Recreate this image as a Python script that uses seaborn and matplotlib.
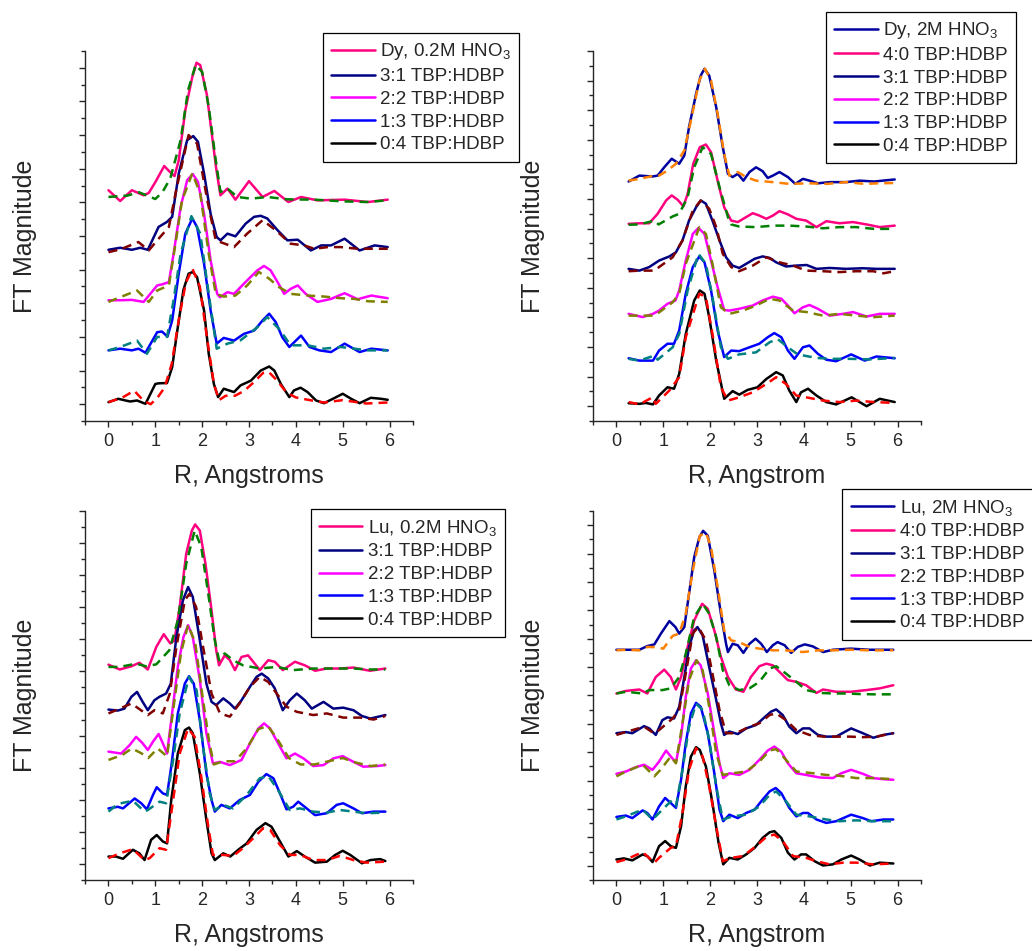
import matplotlib
matplotlib.use("Agg")
import matplotlib.pyplot as plt
from matplotlib.ticker import MultipleLocator
import seaborn as sns

# ---------------- colours (Origin palette) ----------------
PINK, NAVY, MAGENTA, BLUE, BLACK, ROYAL = "#ff0080", "#000080", "#ff00ff", "#0000ff", "#000000", "#0000a0"
GREEN, WINE, OLIVE, DCYAN, RED, ORANGE = "#008000", "#800000", "#808000", "#008080", "#ff0000", "#ff8000"

# ---------------- Panel 1 : Dy, 0.2M HNO3 ----------------
P1_DY_R = [0, 0.25, 0.5, 0.75, 0.86, 1.0, 1.19, 1.3, 1.41, 1.5, 1.64, 1.79, 1.88, 1.96, 2.1, 2.2, 2.3, 2.39, 2.54, 2.71, 3.0, 3.29, 3.54, 3.84, 4.11, 4.46, 5.04, 5.54, 5.96]
P1_DY_Y = [6.36, 6.04, 6.36, 6.21, 6.28, 6.6, 7.08, 6.92, 6.78, 7.25, 8.74, 9.73, 10.15, 10.08, 9.2, 8.1, 7.0, 6.21, 6.41, 6.08, 6.63, 6.16, 6.34, 6.01, 6.16, 6.06, 6.08, 6.01, 6.08]
P1_DYF_R = [0, 0.4, 0.65, 1.0, 1.15, 1.32, 1.54, 1.7, 1.86, 2.0, 2.14, 2.29, 2.39, 2.54, 2.75, 3.04, 3.39, 3.82, 4.4, 5.0, 5.5, 5.96]
P1_DYF_Y = [6.16, 6.2, 6.3, 6.1, 6.3, 6.71, 7.85, 9.34, 10.08, 9.88, 8.84, 7.25, 6.31, 6.41, 6.16, 6.11, 6.16, 6.09, 6.08, 6.03, 6.01, 6.06]

P1_31_R = [0, 0.25, 0.5, 0.68, 0.84, 1.07, 1.25, 1.36, 1.5, 1.68, 1.81, 1.91, 2.04, 2.18, 2.31, 2.39, 2.54, 2.71, 2.93, 3.11, 3.25, 3.39, 3.61, 3.82, 4.04, 4.32, 4.54, 4.75, 5.04, 5.36, 5.68, 5.96]
P1_31_Y = [4.59, 4.65, 4.59, 4.65, 4.59, 5.27, 5.42, 5.57, 6.86, 7.85, 7.97, 7.8, 6.86, 5.66, 4.97, 4.87, 5.07, 4.99, 5.37, 5.57, 5.6, 5.52, 5.17, 4.87, 4.89, 4.57, 4.72, 4.72, 4.92, 4.57, 4.72, 4.67]
P1_31F_R = [0, 0.25, 0.64, 0.86, 1.04, 1.29, 1.46, 1.71, 1.89, 2.11, 2.29, 2.68, 2.96, 3.29, 3.57, 3.89, 4.18, 4.39, 4.68, 4.96, 5.32, 5.96]
P1_31F_Y = [4.52, 4.6, 4.82, 4.57, 4.87, 5.27, 6.46, 8.0, 7.75, 6.06, 4.87, 4.67, 5.07, 5.47, 5.17, 4.77, 4.72, 4.62, 4.67, 4.67, 4.62, 4.62]

P1_22_R = [0, 0.25, 0.5, 0.75, 1.04, 1.14, 1.29, 1.39, 1.54, 1.68, 1.8, 1.91, 2.04, 2.18, 2.32, 2.38, 2.54, 2.68, 2.96, 3.18, 3.32, 3.46, 3.61, 3.75, 3.89, 4.04, 4.21, 4.46, 4.75, 5.04, 5.32, 5.61, 5.96]
P1_22_Y = [3.09, 3.09, 3.1, 3.04, 3.53, 3.56, 3.63, 4.47, 5.86, 6.66, 6.84, 6.61, 5.66, 4.28, 3.28, 3.18, 3.33, 3.28, 3.68, 3.98, 4.11, 3.98, 3.63, 3.28, 3.43, 3.53, 3.28, 3.04, 3.13, 3.3, 3.12, 3.23, 3.15]
P1_22F_R = [0, 0.25, 0.61, 0.86, 1.04, 1.29, 1.43, 1.57, 1.79, 1.96, 2.14, 2.29, 2.46, 2.71, 2.96, 3.21, 3.43, 3.64, 3.89, 4.25, 4.6, 4.96, 5.25, 5.54, 5.96]
P1_22F_Y = [3.04, 3.18, 3.38, 3.04, 3.38, 3.53, 4.77, 6.06, 6.86, 6.26, 4.47, 3.28, 3.2, 3.23, 3.53, 3.93, 3.73, 3.48, 3.28, 3.23, 3.2, 3.15, 3.13, 3.06, 3.04]

P1_13_R = [0, 0.25, 0.5, 0.64, 0.79, 1.04, 1.14, 1.26, 1.36, 1.5, 1.64, 1.79, 1.89, 2.04, 2.18, 2.31, 2.46, 2.68, 2.89, 3.11, 3.29, 3.43, 3.57, 3.71, 3.86, 4.11, 4.29, 4.5, 4.75, 5.04, 5.36, 5.61, 5.96]
P1_13_Y = [1.6, 1.65, 1.6, 1.65, 1.53, 2.14, 2.16, 2.01, 2.49, 3.88, 5.07, 5.52, 5.27, 4.18, 2.79, 1.8, 1.97, 1.89, 2.09, 2.19, 2.49, 2.69, 2.44, 1.99, 1.7, 2.04, 1.7, 1.6, 1.55, 1.8, 1.55, 1.65, 1.6]
P1_13F_R = [0, 0.25, 0.61, 0.82, 1.04, 1.25, 1.39, 1.54, 1.77, 1.96, 2.14, 2.31, 2.54, 2.82, 3.18, 3.39, 3.64, 3.89, 4.25, 4.6, 4.96, 5.25, 5.54, 5.96]
P1_13F_Y = [1.6, 1.7, 1.89, 1.5, 2.0, 2.0, 3.09, 4.47, 5.59, 5.07, 3.28, 1.65, 1.8, 1.9, 2.29, 2.59, 2.24, 1.75, 1.75, 1.65, 1.7, 1.65, 1.6, 1.6]

P1_04_R = [0, 0.21, 0.46, 0.61, 0.79, 1.0, 1.07, 1.25, 1.36, 1.46, 1.6, 1.71, 1.8, 1.89, 2.04, 2.14, 2.25, 2.34, 2.46, 2.57, 2.68, 2.82, 3.04, 3.25, 3.43, 3.54, 3.68, 3.86, 3.96, 4.1, 4.25, 4.43, 4.6, 4.79, 5.0, 5.18, 5.36, 5.6, 5.82, 5.96]
P1_04_Y = [0.06, 0.16, 0.08, 0.11, 0.01, 0.6, 0.62, 0.63, 1.1, 2.1, 3.4, 3.88, 3.93, 3.78, 2.79, 1.5, 0.6, 0.21, 0.46, 0.41, 0.36, 0.56, 0.7, 1.0, 1.12, 1.0, 0.6, 0.21, 0.41, 0.49, 0.36, 0.11, 0.03, 0.16, 0.31, 0.16, 0.03, 0.19, 0.16, 0.13]
P1_04F_R = [0, 0.3, 0.55, 0.75, 0.9, 1.05, 1.2, 1.35, 1.5, 1.65, 1.79, 1.95, 2.1, 2.25, 2.36, 2.5, 2.7, 2.9, 3.1, 3.3, 3.42, 3.6, 3.8, 4.0, 4.3, 4.6, 5.0, 5.5, 5.96]
P1_04F_Y = [0.06, 0.2, 0.4, 0.1, 0.0, 0.2, 0.5, 1.2, 2.5, 3.6, 4.03, 3.5, 2.0, 0.6, 0.12, 0.25, 0.25, 0.4, 0.65, 0.93, 0.96, 0.7, 0.35, 0.2, 0.12, 0.05, 0.12, 0.02, 0.05]

# ---------------- Panel 2 : Dy, 2M HNO3 ----------------
P2_DY_R = [0.26, 0.49, 0.77, 0.88, 1.02, 1.18, 1.34, 1.45, 1.55, 1.7, 1.8, 1.88, 1.98, 2.13, 2.27, 2.38, 2.48, 2.59, 2.71, 2.84, 2.98, 3.12, 3.23, 3.34, 3.48, 3.66, 3.82, 3.98, 4.12, 4.3, 4.55, 4.9, 5.19, 5.5, 5.94]
P2_DY_Y = [7.59, 7.79, 7.76, 7.79, 8.07, 8.36, 8.19, 8.47, 9.43, 10.55, 11.17, 11.4, 11.17, 10.1, 8.75, 7.85, 7.74, 7.85, 7.62, 7.91, 8.07, 7.94, 7.71, 7.79, 7.91, 7.74, 7.51, 7.68, 7.62, 7.53, 7.57, 7.57, 7.62, 7.59, 7.66]
P2_DYF_R = [0.26, 0.49, 0.81, 0.91, 1.09, 1.27, 1.45, 1.59, 1.77, 1.89, 2.02, 2.16, 2.3, 2.41, 2.59, 2.77, 2.98, 3.34, 3.69, 4.1, 4.5, 4.9, 5.3, 5.6, 5.94]
P2_DYF_Y = [7.62, 7.68, 7.79, 7.79, 7.96, 8.19, 8.64, 9.65, 11.0, 11.4, 11.0, 9.88, 8.52, 7.79, 7.91, 7.74, 7.62, 7.57, 7.51, 7.53, 7.51, 7.57, 7.51, 7.53, 7.54]

P2_40_R = [0.26, 0.49, 0.7, 0.88, 1.06, 1.18, 1.31, 1.43, 1.52, 1.64, 1.78, 1.91, 2.02, 2.16, 2.3, 2.45, 2.59, 2.77, 2.91, 3.05, 3.2, 3.34, 3.48, 3.66, 3.84, 4.05, 4.27, 4.48, 4.76, 5.05, 5.34, 5.62, 5.94]
P2_40_Y = [6.16, 6.18, 6.18, 6.5, 6.95, 7.12, 6.97, 6.75, 7.17, 8.19, 8.75, 8.84, 8.58, 7.62, 6.72, 6.27, 6.22, 6.39, 6.52, 6.44, 6.33, 6.44, 6.59, 6.48, 6.33, 6.27, 6.05, 6.25, 6.18, 6.22, 6.14, 6.05, 6.1]
P2_40F_R = [0.26, 0.49, 0.81, 0.9, 1.2, 1.34, 1.52, 1.66, 1.84, 2.02, 2.2, 2.38, 2.45, 2.62, 2.98, 3.34, 3.69, 4.05, 4.41, 4.76, 5.12, 5.5, 5.94]
P2_40F_Y = [6.13, 6.14, 6.27, 6.14, 6.41, 6.5, 7.06, 8.07, 8.75, 8.52, 7.4, 6.39, 6.14, 6.07, 6.05, 6.1, 6.1, 6.07, 6.01, 6.05, 6.05, 5.99, 5.99]

P2_31_R = [0.26, 0.49, 0.7, 0.91, 1.13, 1.27, 1.41, 1.55, 1.7, 1.8, 1.91, 2.05, 2.2, 2.34, 2.48, 2.62, 2.77, 2.95, 3.12, 3.27, 3.41, 3.62, 3.84, 4.06, 4.27, 4.55, 4.9, 5.26, 5.55, 5.94]
P2_31_Y = [4.64, 4.58, 4.7, 4.92, 5.06, 5.2, 5.6, 6.27, 6.72, 6.95, 6.84, 6.27, 5.6, 5.03, 4.75, 4.67, 4.81, 4.98, 5.06, 5.01, 4.86, 4.72, 4.75, 4.77, 4.64, 4.67, 4.64, 4.66, 4.64, 4.64]
P2_31F_R = [0.26, 0.49, 0.81, 0.91, 1.2, 1.41, 1.63, 1.8, 1.98, 2.13, 2.27, 2.45, 2.62, 2.91, 3.2, 3.48, 3.77, 4.05, 4.41, 4.76, 5.12, 5.48, 5.7, 5.94]
P2_31F_Y = [4.56, 4.58, 4.58, 4.7, 5.03, 5.6, 6.61, 6.95, 6.67, 6.05, 5.15, 4.7, 4.56, 4.75, 5.03, 4.86, 4.75, 4.58, 4.56, 4.53, 4.56, 4.56, 4.49, 4.56]

P2_22_R = [0.26, 0.56, 0.78, 0.91, 1.09, 1.26, 1.34, 1.48, 1.63, 1.75, 1.88, 2.02, 2.16, 2.3, 2.41, 2.62, 2.91, 3.12, 3.34, 3.52, 3.66, 3.8, 3.98, 4.12, 4.3, 4.55, 4.84, 5.05, 5.34, 5.62, 5.94]
P2_22_Y = [3.12, 3.01, 3.12, 3.23, 3.46, 3.57, 3.91, 4.92, 5.82, 6.02, 5.82, 4.92, 4.02, 3.25, 3.23, 3.29, 3.4, 3.57, 3.7, 3.63, 3.4, 3.14, 3.34, 3.42, 3.29, 3.06, 3.12, 3.18, 3.03, 3.12, 3.12]
P2_22F_R = [0.26, 0.49, 0.81, 0.91, 1.2, 1.34, 1.48, 1.77, 1.91, 2.05, 2.23, 2.41, 2.7, 2.98, 3.27, 3.48, 3.77, 4.06, 4.41, 4.76, 5.12, 5.5, 5.94]
P2_22F_Y = [3.06, 3.06, 3.06, 3.17, 3.51, 3.8, 4.81, 6.05, 5.82, 4.81, 3.34, 3.12, 3.23, 3.4, 3.63, 3.57, 3.23, 3.18, 3.06, 3.12, 3.06, 3.01, 3.06]

P2_13_R = [0.26, 0.49, 0.78, 0.91, 1.09, 1.23, 1.34, 1.48, 1.63, 1.77, 1.88, 2.02, 2.16, 2.3, 2.45, 2.62, 2.84, 3.05, 3.23, 3.37, 3.52, 3.66, 3.8, 3.98, 4.12, 4.3, 4.48, 4.69, 5.01, 5.3, 5.55, 5.94]
P2_13_Y = [1.62, 1.54, 1.54, 1.88, 2.11, 2.11, 2.56, 3.8, 4.7, 5.06, 4.86, 3.91, 2.56, 1.66, 1.88, 1.86, 1.99, 2.11, 2.33, 2.47, 2.33, 1.88, 1.6, 1.99, 2.05, 1.77, 1.57, 1.52, 1.75, 1.54, 1.68, 1.62]
P2_13F_R = [0.26, 0.49, 0.81, 0.88, 1.2, 1.34, 1.52, 1.75, 1.91, 2.05, 2.23, 2.38, 2.62, 2.98, 3.27, 3.44, 3.66, 3.87, 4.27, 4.62, 5.0, 5.4, 5.94]
P2_13F_Y = [1.6, 1.54, 1.71, 1.57, 1.99, 2.44, 3.91, 5.15, 4.81, 3.68, 1.99, 1.6, 1.75, 1.82, 2.16, 2.27, 1.99, 1.75, 1.63, 1.6, 1.6, 1.58, 1.63]

P2_04_R = [0.26, 0.49, 0.63, 0.78, 0.91, 1.09, 1.23, 1.34, 1.48, 1.66, 1.78, 1.88, 1.98, 2.13, 2.3, 2.48, 2.62, 2.8, 3.01, 3.2, 3.41, 3.55, 3.69, 3.84, 3.94, 4.09, 4.27, 4.48, 4.69, 5.02, 5.34, 5.62, 5.94]
P2_04_Y = [0.1, 0.08, 0.11, 0.06, 0.36, 0.64, 0.59, 1.09, 2.44, 3.57, 3.91, 3.8, 3.01, 1.54, 0.25, 0.51, 0.39, 0.55, 0.64, 0.92, 1.15, 1.04, 0.53, 0.14, 0.47, 0.59, 0.36, 0.14, 0.06, 0.3, 0.0, 0.25, 0.14]
P2_04F_R = [0.26, 0.49, 0.77, 0.84, 1.13, 1.34, 1.48, 1.77, 1.91, 2.05, 2.23, 2.38, 2.62, 2.91, 3.2, 3.41, 3.62, 3.84, 4.05, 4.41, 4.76, 5.12, 5.5, 5.94]
P2_04F_Y = [0.14, 0.06, 0.3, 0.08, 0.53, 0.98, 2.33, 3.8, 3.68, 2.44, 0.64, 0.19, 0.3, 0.47, 0.75, 0.98, 0.75, 0.36, 0.3, 0.19, 0.14, 0.19, 0.14, 0.11]

# ---------------- Panel 3 : Lu, 0.2M HNO3 ----------------
P3_LU_R = [0, 0.24, 0.49, 0.66, 0.84, 1.02, 1.18, 1.32, 1.41, 1.52, 1.66, 1.78, 1.85, 1.95, 2.07, 2.2, 2.3, 2.36, 2.48, 2.59, 2.7, 2.84, 2.98, 3.09, 3.23, 3.41, 3.55, 3.72, 3.98, 4.19, 4.41, 4.66, 4.94, 5.23, 5.58, 5.91]
P3_LU_Y = [6.21, 6.06, 6.16, 6.27, 6.06, 6.76, 7.16, 6.87, 6.97, 8.01, 9.67, 10.39, 10.58, 10.39, 9.36, 7.9, 6.66, 6.19, 6.5, 6.35, 6.04, 6.45, 6.5, 6.3, 6.04, 6.35, 6.3, 6.04, 6.3, 6.19, 6.02, 6.09, 6.09, 6.12, 6.02, 6.09]
P3_LUF_R = [0, 0.24, 0.59, 0.8, 1.02, 1.3, 1.48, 1.66, 1.84, 1.98, 2.13, 2.27, 2.36, 2.48, 2.66, 2.87, 3.23, 3.59, 3.94, 4.37, 4.8, 5.23, 5.58, 5.91]
P3_LUF_Y = [6.14, 6.14, 6.24, 6.16, 6.22, 6.66, 7.59, 9.36, 10.39, 9.88, 8.42, 6.97, 6.35, 6.56, 6.35, 6.19, 6.09, 6.14, 6.04, 6.09, 6.09, 6.09, 6.06, 6.06]

P3_31_R = [0, 0.2, 0.34, 0.49, 0.61, 0.73, 0.84, 0.98, 1.09, 1.23, 1.33, 1.45, 1.59, 1.7, 1.8, 1.95, 2.09, 2.2, 2.3, 2.45, 2.59, 2.7, 2.84, 3.02, 3.16, 3.27, 3.41, 3.55, 3.72, 3.87, 4.02, 4.19, 4.34, 4.59, 4.8, 5.01, 5.23, 5.41, 5.59, 5.91]
P3_31_Y = [4.81, 4.78, 4.84, 5.21, 5.36, 5.05, 4.79, 5.1, 5.21, 5.31, 5.62, 7.07, 8.22, 8.63, 8.32, 6.97, 5.62, 5.05, 4.95, 5.16, 5.0, 4.84, 5.1, 5.52, 5.83, 5.93, 5.78, 5.47, 4.79, 5.1, 5.31, 5.1, 4.84, 5.05, 4.84, 4.87, 4.79, 4.61, 4.53, 4.64]
P3_31F_R = [0, 0.24, 0.49, 0.84, 0.98, 1.16, 1.31, 1.45, 1.63, 1.73, 1.87, 2.02, 2.2, 2.38, 2.59, 2.8, 3.02, 3.23, 3.41, 3.59, 3.8, 4.02, 4.37, 4.66, 5.01, 5.37, 5.66, 5.91]
P3_31F_Y = [4.69, 4.84, 5.0, 4.64, 4.79, 4.69, 5.31, 6.76, 8.22, 8.42, 8.01, 6.76, 5.31, 4.69, 4.59, 5.0, 5.52, 5.83, 5.67, 5.31, 4.9, 4.74, 4.64, 4.69, 4.56, 4.56, 4.5, 4.61]

P3_22_R = [0, 0.27, 0.45, 0.59, 0.73, 0.84, 0.95, 1.07, 1.16, 1.25, 1.34, 1.48, 1.6, 1.7, 1.8, 1.95, 2.09, 2.23, 2.38, 2.59, 2.84, 3.02, 3.2, 3.32, 3.45, 3.62, 3.8, 3.98, 4.16, 4.37, 4.59, 4.8, 5.0, 5.23, 5.44, 5.73, 5.91]
P3_22_Y = [3.5, 3.44, 3.7, 3.96, 3.76, 3.55, 3.81, 4.05, 3.76, 3.44, 4.48, 6.14, 7.07, 7.44, 7.07, 5.73, 4.07, 3.13, 3.18, 3.08, 3.24, 3.76, 4.22, 4.38, 4.22, 3.76, 3.29, 3.44, 3.29, 3.05, 3.08, 3.29, 3.36, 3.18, 3.03, 3.05, 3.08]
P3_22F_R = [0, 0.3, 0.5, 0.7, 0.85, 1.05, 1.25, 1.4, 1.55, 1.7, 1.85, 2.0, 2.15, 2.25, 2.45, 2.7, 2.95, 3.2, 3.4, 3.6, 3.85, 4.1, 4.4, 4.7, 5.0, 5.3, 5.6, 5.91]
P3_22F_Y = [3.24, 3.4, 3.6, 3.45, 3.3, 3.6, 3.35, 5.0, 6.6, 7.45, 6.9, 5.3, 3.8, 3.1, 3.2, 3.2, 3.6, 4.2, 4.3, 3.9, 3.3, 3.1, 3.1, 3.2, 3.3, 3.15, 3.05, 3.1]

P3_13_R = [0, 0.2, 0.31, 0.56, 0.7, 0.82, 0.95, 1.03, 1.16, 1.25, 1.34, 1.48, 1.63, 1.72, 1.82, 1.95, 2.09, 2.2, 2.27, 2.41, 2.59, 2.8, 3.02, 3.2, 3.37, 3.52, 3.66, 3.8, 3.94, 4.05, 4.23, 4.41, 4.66, 4.87, 5.01, 5.23, 5.41, 5.66, 5.91]
P3_13_Y = [1.73, 1.78, 1.73, 2.04, 1.89, 1.7, 2.15, 2.39, 2.2, 2.15, 3.03, 4.69, 5.62, 5.85, 5.62, 4.48, 2.82, 1.99, 1.63, 1.84, 1.73, 1.99, 2.15, 2.56, 2.8, 2.67, 2.2, 1.7, 1.78, 1.94, 1.73, 1.52, 1.58, 1.84, 1.89, 1.73, 1.58, 1.63, 1.63]
P3_13F_R = [0, 0.2, 0.52, 0.77, 0.84, 1.09, 1.23, 1.38, 1.52, 1.72, 1.88, 2.02, 2.16, 2.27, 2.45, 2.66, 2.95, 3.23, 3.41, 3.62, 3.87, 4.09, 4.37, 4.66, 4.94, 5.23, 5.5, 5.91]
P3_13F_Y = [1.63, 1.87, 1.97, 1.63, 1.68, 1.94, 1.89, 3.24, 4.69, 5.83, 5.42, 3.65, 2.2, 1.68, 1.84, 1.73, 2.15, 2.67, 2.74, 2.3, 1.68, 1.73, 1.63, 1.6, 1.68, 1.63, 1.58, 1.6]

P3_04_R = [0, 0.16, 0.31, 0.52, 0.66, 0.77, 0.91, 1.03, 1.16, 1.25, 1.34, 1.48, 1.63, 1.72, 1.8, 1.95, 2.09, 2.2, 2.27, 2.45, 2.6, 2.77, 2.95, 3.16, 3.35, 3.48, 3.66, 3.84, 4.02, 4.19, 4.41, 4.66, 4.84, 5.0, 5.16, 5.41, 5.59, 5.8, 5.91]
P3_04_Y = [0.23, 0.23, 0.16, 0.44, 0.33, 0.12, 0.75, 0.9, 0.7, 0.64, 1.99, 3.44, 4.17, 4.25, 4.07, 2.82, 1.37, 0.33, 0.12, 0.33, 0.23, 0.44, 0.64, 1.06, 1.27, 1.16, 0.7, 0.23, 0.4, 0.23, 0.04, 0.07, 0.28, 0.41, 0.28, 0.02, 0.12, 0.15, 0.09]
P3_04F_R = [0, 0.24, 0.52, 0.77, 0.88, 1.09, 1.23, 1.38, 1.52, 1.7, 1.84, 1.98, 2.13, 2.23, 2.45, 2.66, 2.87, 3.09, 3.3, 3.45, 3.66, 3.87, 4.09, 4.37, 4.66, 4.94, 5.23, 5.5, 5.91]
P3_04F_Y = [0.18, 0.33, 0.46, 0.12, 0.18, 0.49, 0.44, 1.99, 3.44, 4.22, 3.96, 2.72, 1.16, 0.28, 0.28, 0.25, 0.49, 0.8, 1.11, 1.06, 0.59, 0.28, 0.28, 0.12, 0.12, 0.25, 0.12, 0.04, 0.07]

# ---------------- Panel 4 : Lu, 2M HNO3 ----------------
P4_LU_R = [0, 0.2, 0.49, 0.66, 0.81, 0.95, 1.13, 1.26, 1.34, 1.45, 1.55, 1.66, 1.77, 1.85, 1.95, 2.09, 2.23, 2.34, 2.38, 2.48, 2.59, 2.71, 2.84, 2.97, 3.09, 3.21, 3.34, 3.44, 3.59, 3.73, 3.87, 4.02, 4.19, 4.41, 4.62, 5.0, 5.4, 5.91]
P4_LU_Y = [7.61, 7.61, 7.61, 7.74, 7.8, 8.18, 8.62, 8.41, 8.18, 8.41, 9.58, 10.87, 11.57, 11.8, 11.63, 10.4, 8.88, 7.82, 7.53, 7.82, 7.77, 7.5, 7.82, 8.0, 7.82, 7.53, 7.77, 7.88, 7.77, 7.5, 7.71, 7.8, 7.73, 7.53, 7.61, 7.65, 7.61, 7.61]
P4_LUF_R = [0, 0.2, 0.49, 0.66, 0.85, 1.0, 1.2, 1.34, 1.48, 1.63, 1.78, 1.91, 2.02, 2.16, 2.3, 2.45, 2.62, 2.84, 3.05, 3.34, 3.62, 3.98, 4.3, 4.62, 5.0, 5.4, 5.91]
P4_LUF_Y = [7.59, 7.61, 7.59, 7.71, 7.7, 7.65, 8.1, 8.18, 8.88, 10.4, 11.63, 11.74, 11.22, 9.82, 8.29, 7.94, 7.88, 7.71, 7.65, 7.59, 7.59, 7.53, 7.59, 7.59, 7.61, 7.59, 7.59]

P4_40_R = [0, 0.2, 0.49, 0.66, 0.84, 1.02, 1.16, 1.27, 1.38, 1.52, 1.66, 1.83, 1.95, 2.09, 2.23, 2.38, 2.55, 2.71, 2.87, 3.05, 3.2, 3.34, 3.48, 3.66, 3.84, 4.05, 4.27, 4.41, 4.69, 5.0, 5.34, 5.62, 5.91]
P4_40_Y = [6.07, 6.16, 6.21, 6.07, 6.65, 6.91, 6.65, 6.21, 6.65, 7.71, 8.64, 9.23, 9.05, 8.29, 7.36, 6.65, 6.21, 6.13, 6.65, 7.03, 7.12, 7.06, 6.83, 6.54, 6.48, 6.36, 6.09, 6.21, 6.13, 6.13, 6.19, 6.25, 6.36]
P4_40F_R = [0, 0.2, 0.56, 0.7, 0.98, 1.16, 1.34, 1.48, 1.66, 1.84, 1.98, 2.13, 2.27, 2.41, 2.62, 2.84, 3.05, 3.27, 3.41, 3.62, 3.84, 4.05, 4.34, 4.62, 4.9, 5.19, 5.48, 5.91]
P4_40F_Y = [6.07, 6.13, 6.07, 6.19, 6.19, 6.25, 6.65, 7.47, 8.76, 9.23, 8.88, 8.06, 6.89, 6.36, 6.19, 6.25, 6.48, 6.95, 7.03, 6.77, 6.48, 6.19, 6.09, 6.07, 6.07, 6.05, 6.04, 6.04]

P4_31_R = [0, 0.2, 0.34, 0.59, 0.7, 0.84, 0.98, 1.09, 1.23, 1.34, 1.45, 1.55, 1.66, 1.73, 1.84, 1.98, 2.13, 2.23, 2.3, 2.41, 2.59, 2.77, 2.98, 3.16, 3.3, 3.41, 3.55, 3.69, 3.84, 3.98, 4.12, 4.3, 4.48, 4.69, 5.01, 5.26, 5.48, 5.7, 5.91]
P4_31_Y = [4.67, 4.71, 4.67, 4.92, 4.84, 4.61, 5.13, 5.23, 5.19, 5.6, 6.65, 7.71, 8.29, 8.41, 8.12, 7.0, 5.84, 5.02, 4.61, 4.73, 4.64, 4.84, 4.96, 5.23, 5.43, 5.51, 5.31, 4.9, 4.67, 4.84, 4.84, 4.61, 4.55, 4.55, 4.84, 4.67, 4.51, 4.61, 4.67]
P4_31F_R = [0, 0.2, 0.59, 0.8, 0.91, 1.2, 1.34, 1.48, 1.63, 1.75, 1.91, 2.05, 2.2, 2.34, 2.55, 2.84, 3.05, 3.27, 3.41, 3.62, 3.84, 4.12, 4.41, 4.69, 4.98, 5.26, 5.55, 5.91]
P4_31F_Y = [4.61, 4.71, 4.9, 4.67, 4.78, 5.19, 5.49, 6.77, 8.19, 8.41, 7.94, 6.77, 5.49, 4.67, 4.67, 4.9, 5.02, 5.31, 5.37, 5.13, 4.78, 4.61, 4.55, 4.55, 4.55, 4.53, 4.55, 4.67]

P4_22_R = [0, 0.2, 0.41, 0.59, 0.77, 0.91, 1.06, 1.16, 1.27, 1.38, 1.48, 1.59, 1.7, 1.8, 1.95, 2.09, 2.2, 2.28, 2.41, 2.62, 2.84, 3.05, 3.23, 3.37, 3.52, 3.66, 3.84, 4.05, 4.34, 4.62, 4.8, 5.01, 5.26, 5.48, 5.7, 5.91]
P4_22_Y = [3.24, 3.32, 3.47, 3.56, 3.38, 3.67, 4.06, 3.85, 3.64, 4.55, 5.95, 6.95, 7.24, 7.06, 6.07, 4.67, 3.61, 3.09, 3.26, 3.2, 3.38, 3.73, 4.06, 4.2, 4.02, 3.61, 3.26, 3.2, 3.11, 3.09, 3.26, 3.38, 3.24, 3.09, 3.05, 3.03]
P4_22F_R = [0, 0.2, 0.56, 0.81, 0.95, 1.16, 1.27, 1.41, 1.55, 1.71, 1.84, 1.98, 2.13, 2.27, 2.48, 2.77, 3.05, 3.27, 3.41, 3.62, 3.84, 4.2, 4.48, 4.76, 5.12, 5.48, 5.91]
P4_22F_Y = [3.15, 3.32, 3.56, 3.15, 3.4, 3.85, 3.61, 5.02, 6.54, 7.24, 6.89, 5.61, 3.96, 3.2, 3.26, 3.32, 3.67, 4.06, 4.11, 3.73, 3.32, 3.26, 3.2, 3.17, 3.09, 3.09, 3.05]

P4_13_R = [0, 0.2, 0.34, 0.56, 0.66, 0.77, 0.91, 1.04, 1.16, 1.27, 1.38, 1.48, 1.59, 1.7, 1.8, 1.95, 2.09, 2.2, 2.28, 2.41, 2.59, 2.77, 2.95, 3.12, 3.27, 3.4, 3.52, 3.69, 3.84, 3.98, 4.09, 4.27, 4.48, 4.69, 5.01, 5.26, 5.44, 5.7, 5.91]
P4_13_Y = [1.72, 1.77, 1.68, 1.95, 1.86, 1.63, 2.09, 2.39, 2.21, 2.04, 3.03, 4.32, 5.37, 5.74, 5.6, 4.67, 3.26, 1.98, 1.57, 1.8, 1.68, 1.86, 1.98, 2.33, 2.62, 2.74, 2.56, 2.04, 1.74, 1.86, 1.86, 1.63, 1.51, 1.57, 1.8, 1.68, 1.57, 1.63, 1.63]
P4_13F_R = [0, 0.2, 0.56, 0.77, 0.91, 1.16, 1.27, 1.41, 1.55, 1.7, 1.84, 1.98, 2.13, 2.27, 2.48, 2.77, 3.05, 3.27, 3.41, 3.62, 3.84, 4.12, 4.48, 4.76, 5.12, 5.48, 5.91]
P4_13F_Y = [1.63, 1.74, 1.98, 1.63, 1.86, 2.27, 2.09, 3.38, 4.9, 5.71, 5.49, 4.43, 2.8, 1.63, 1.74, 1.8, 2.09, 2.5, 2.62, 2.27, 1.8, 1.74, 1.63, 1.57, 1.6, 1.57, 1.57]

P4_04_R = [0, 0.16, 0.34, 0.56, 0.66, 0.77, 0.91, 1.04, 1.16, 1.27, 1.38, 1.48, 1.59, 1.7, 1.78, 1.91, 2.05, 2.18, 2.28, 2.41, 2.59, 2.77, 2.95, 3.12, 3.27, 3.37, 3.52, 3.66, 3.8, 3.94, 4.05, 4.23, 4.41, 4.62, 4.8, 5.01, 5.19, 5.41, 5.62, 5.91]
P4_04_Y = [0.22, 0.26, 0.19, 0.4, 0.34, 0.13, 0.69, 0.87, 0.69, 0.63, 1.39, 2.8, 3.85, 4.18, 4.08, 3.5, 2.21, 0.81, 0.05, 0.28, 0.22, 0.4, 0.63, 0.98, 1.18, 1.22, 0.98, 0.46, 0.22, 0.4, 0.4, 0.16, 0.01, 0.05, 0.22, 0.36, 0.22, 0.01, 0.11, 0.08]
P4_04F_R = [0, 0.2, 0.56, 0.81, 0.91, 1.16, 1.27, 1.41, 1.55, 1.7, 1.84, 1.98, 2.13, 2.27, 2.45, 2.7, 2.98, 3.2, 3.37, 3.55, 3.77, 4.05, 4.27, 4.55, 4.84, 5.12, 5.48, 5.91]
P4_04F_Y = [0.13, 0.22, 0.48, 0.11, 0.28, 0.63, 0.69, 1.86, 3.38, 4.14, 3.85, 2.8, 1.39, 0.16, 0.28, 0.34, 0.69, 1.02, 1.1, 0.87, 0.34, 0.28, 0.16, 0.05, 0.11, 0.11, 0.05, 0.08]

RATIOS = ["4:0 TBP:HDBP", "3:1 TBP:HDBP", "2:2 TBP:HDBP", "1:3 TBP:HDBP", "0:4 TBP:HDBP"]
XLABELS = ["R, Angstroms", "R, Angstrom", "R, Angstroms", "R, Angstrom"]

# ---------------- style ----------------
sns.set_style("ticks")
plt.rcParams["font.family"] = ["Liberation Sans", "DejaVu Sans"]
plt.rcParams["mathtext.fontset"] = "custom"
plt.rcParams["mathtext.rm"] = "Liberation Sans"
plt.rcParams["mathtext.it"] = "Liberation Sans:italic"
plt.rcParams["axes.linewidth"] = 1.0

panels = [
    dict(pos=[0.0824, 0.5573, 0.3178, 0.3891], ytop=10.5, leg=(0.313, 0.9653),
         series=[("Dy, 0.2M HNO$_3$", PINK, P1_DY_R, P1_DY_Y, GREEN, P1_DYF_R, P1_DYF_Y),
                 (RATIOS[1], NAVY, P1_31_R, P1_31_Y, WINE, P1_31F_R, P1_31F_Y),
                 (RATIOS[2], MAGENTA, P1_22_R, P1_22_Y, OLIVE, P1_22F_R, P1_22F_Y),
                 (RATIOS[3], BLUE, P1_13_R, P1_13_Y, DCYAN, P1_13F_R, P1_13F_Y),
                 (RATIOS[4], BLACK, P1_04_R, P1_04_Y, RED, P1_04F_R, P1_04F_Y)]),
    dict(pos=[0.5746, 0.5573, 0.3178, 0.3891], ytop=12.0, leg=(0.8004, 0.9877),
         series=[("Dy, 2M HNO$_3$", ROYAL, P2_DY_R, P2_DY_Y, ORANGE, P2_DYF_R, P2_DYF_Y),
                 (RATIOS[0], PINK, P2_40_R, P2_40_Y, GREEN, P2_40F_R, P2_40F_Y),
                 (RATIOS[1], NAVY, P2_31_R, P2_31_Y, WINE, P2_31F_R, P2_31F_Y),
                 (RATIOS[2], MAGENTA, P2_22_R, P2_22_Y, OLIVE, P2_22F_R, P2_22F_Y),
                 (RATIOS[3], BLUE, P2_13_R, P2_13_Y, DCYAN, P2_13F_R, P2_13F_Y),
                 (RATIOS[4], BLACK, P2_04_R, P2_04_Y, RED, P2_04F_R, P2_04F_Y)]),
    dict(pos=[0.0824, 0.0747, 0.3178, 0.388], ytop=11.0, leg=(0.301, 0.4645),
         series=[("Lu, 0.2M HNO$_3$", PINK, P3_LU_R, P3_LU_Y, GREEN, P3_LUF_R, P3_LUF_Y),
                 (RATIOS[1], NAVY, P3_31_R, P3_31_Y, WINE, P3_31F_R, P3_31F_Y),
                 (RATIOS[2], MAGENTA, P3_22_R, P3_22_Y, OLIVE, P3_22F_R, P3_22F_Y),
                 (RATIOS[3], BLUE, P3_13_R, P3_13_Y, DCYAN, P3_13F_R, P3_13F_Y),
                 (RATIOS[4], BLACK, P3_04_R, P3_04_Y, RED, P3_04F_R, P3_04F_Y)]),
    dict(pos=[0.5746, 0.0747, 0.3178, 0.388], ytop=12.5, leg=(0.8162, 0.4855),
         series=[("Lu, 2M HNO$_3$", ROYAL, P4_LU_R, P4_LU_Y, ORANGE, P4_LUF_R, P4_LUF_Y),
                 (RATIOS[0], PINK, P4_40_R, P4_40_Y, GREEN, P4_40F_R, P4_40F_Y),
                 (RATIOS[1], NAVY, P4_31_R, P4_31_Y, WINE, P4_31F_R, P4_31F_Y),
                 (RATIOS[2], MAGENTA, P4_22_R, P4_22_Y, OLIVE, P4_22F_R, P4_22F_Y),
                 (RATIOS[3], BLUE, P4_13_R, P4_13_Y, DCYAN, P4_13F_R, P4_13F_Y),
                 (RATIOS[4], BLACK, P4_04_R, P4_04_Y, RED, P4_04F_R, P4_04F_Y)]),
]

fig = plt.figure(figsize=(10.32, 9.51), dpi=100)
LW = 1.8
DASH = (0, (3.6, 2.4))

for i, p in enumerate(panels):
    ax = fig.add_axes(p["pos"])
    handles, labels = [], []
    for (lab, col, xr, yv, fcol, fxr, fyv) in p["series"]:
        sns.lineplot(x=xr, y=yv, ax=ax, color=col, linewidth=LW, estimator=None, sort=False)
        handles.append(ax.lines[-1])
        labels.append(lab)
    for (lab, col, xr, yv, fcol, fxr, fyv) in p["series"]:
        sns.lineplot(x=fxr, y=fyv, ax=ax, color=fcol, linewidth=LW, linestyle=DASH,
                     estimator=None, sort=False)
    ax.set_xlim(-0.5, 6.5)
    ax.set_ylim(-0.5, p["ytop"])
    ax.xaxis.set_major_locator(MultipleLocator(1))
    ax.xaxis.set_minor_locator(MultipleLocator(0.5))
    ax.yaxis.set_major_locator(MultipleLocator(1))
    ax.yaxis.set_minor_locator(MultipleLocator(0.5))
    ax.tick_params(axis="both", which="major", direction="out", length=4.5, width=1.0,
                   labelsize=13, pad=4)
    ax.tick_params(axis="both", which="minor", direction="out", length=2.6, width=1.0)
    ax.tick_params(axis="y", which="both", labelleft=False)
    sns.despine(ax=ax)
    ax.set_xlabel(XLABELS[i], fontsize=18, labelpad=10)
    ax.set_ylabel("FT Magnitude", fontsize=18, labelpad=30)
    leg = fig.legend(handles, labels, loc="upper left", bbox_to_anchor=p["leg"],
                     bbox_transform=fig.transFigure, frameon=True, fancybox=False,
                     edgecolor="black", framealpha=1, fontsize=13.5, handlelength=2.3,
                     handletextpad=0.3, labelspacing=0.3, borderpad=0.45, borderaxespad=0)
    leg.get_frame().set_linewidth(0.9)

fig.savefig("out.png", dpi=100)
